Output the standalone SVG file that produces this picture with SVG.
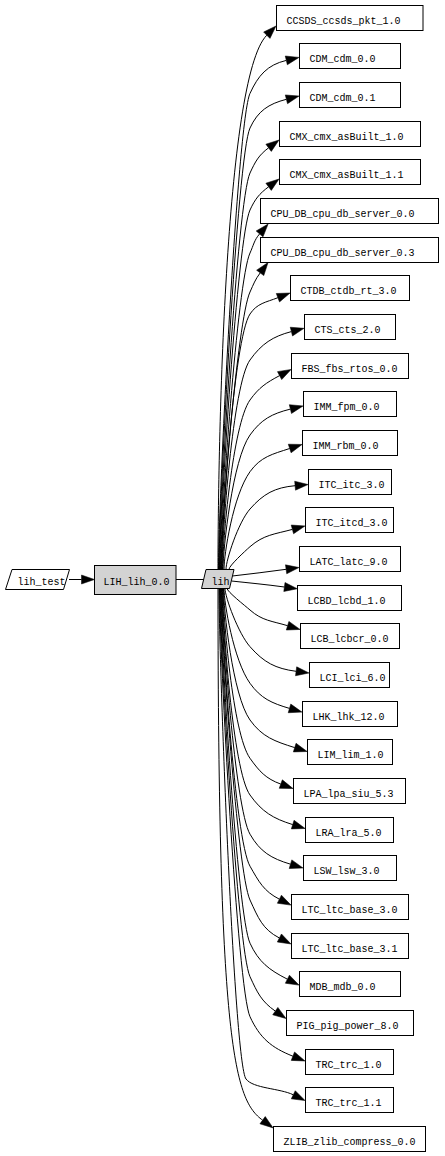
<svg xmlns="http://www.w3.org/2000/svg" width="445" height="1156" viewBox="0 0 445 1156">
<style>
.box{fill:#fff;stroke:#000;stroke-width:1}
.gray{fill:#d3d3d3;stroke:#000;stroke-width:1}
.lbl{font-family:"Liberation Mono","DejaVu Sans Mono",monospace;font-size:10px;fill:#000}
.e{fill:none;stroke:#000;stroke-width:1;marker-end:url(#ah)}
.e0{fill:none;stroke:#000;stroke-width:1}
</style>
<defs>
<marker id="ah" markerUnits="userSpaceOnUse" orient="auto" refX="0" refY="0" markerWidth="14" markerHeight="10" overflow="visible">
<path d="M0,-4.5 L13,0 L0,4.5 Z" fill="#000" stroke="#000" stroke-width="0.5"/>
</marker>
</defs>
<rect width="445" height="1156" fill="#fff"/>
<g id="edges">
<path class="e" d="M69,579.5 L81.5,579.5"/>
<path class="e0" d="M176,579.5 L204,579.5"/>
<path class="e" d="M218,569.3 C218,450 224.4,77.6 266.8,35.2"/>
<path class="e" d="M218.5,569.3 C218.5,497.9 237.4,120.7 250,93.4 C258.2,75.5 267.2,64.9 286.3,60.4"/>
<path class="e" d="M219,569.3 C219,503.1 237.4,155.3 250,128 C257.8,111.1 268.4,103.9 286.4,99.3"/>
<path class="e" d="M219.5,569.3 C219.5,509.9 237.4,200.3 250,173 C255.3,161.6 258.6,155.3 268.6,147.8"/>
<path class="e" d="M220,569.3 C220,515.4 237.4,237.3 250,210 C255,199.2 259.1,193.9 268.6,186.8"/>
<path class="e" d="M220.5,569.3 C220.5,521.9 237.4,280.3 250,253 C253.6,245.2 254,240.4 259.6,233.9"/>
<path class="e" d="M221,569.3 C221,527.7 237.4,319.3 250,292 C253.6,284.1 255,279.8 260.2,272.9"/>
<path class="e" d="M221.5,569.3 C221.5,531 233.5,338.9 250,314 C257.1,303.3 265.9,302.3 277.9,297.7"/>
<path class="e" d="M222,569.3 C222,537.9 232.6,384.3 250,360 C261.6,343.7 272.9,336.4 291.4,331.6"/>
<path class="e" d="M222.5,569.3 C222.5,543.9 232.6,424.3 250,400 C258.9,387.6 266.1,382.8 279.6,375.6"/>
<path class="e" d="M223,569.3 C223,549.2 232.6,459.3 250,435 C261.1,419.5 271.8,413.7 290.4,409.1"/>
<path class="e" d="M224,569.3 C224,554.7 233,495.4 250,471.7 C260.7,456.8 272.2,454.2 289.7,448.5"/>
<path class="e" d="M226,569.3 C226,560.3 238.1,522.6 250,509 C263.4,493.8 274.8,487.5 295.1,485.7"/>
<path class="e" d="M229,569.3 C229,565.9 244.9,551.2 250,546.7 C263.8,534.6 274.7,534.2 292.4,529.4"/>
<path class="e" d="M232.3,576 C250,574 268,571.8 286.1,569.3"/>
<path class="e" d="M231.5,581 C250,583 266,584.5 284.4,587"/>
<path class="e" d="M227,588.3 C227,591.6 245.1,605.7 250,610 C262.2,620.8 272,621 287.6,625.7"/>
<path class="e" d="M225,588.3 C225,597.1 238.4,633.6 250,646.7 C263.8,662.4 275.4,668.6 296.1,671.3"/>
<path class="e" d="M224,588.3 C224,602.6 233.5,660.2 250,683.3 C260.9,698.5 271.6,703.1 289.5,708.4"/>
<path class="e" d="M223.5,588.3 C223.5,608.1 232.6,695.7 250,720 C262.2,737 274.7,741.3 294.7,747.6"/>
<path class="e" d="M223,588.3 C223,613.8 232.6,734 250,758.3 C259.3,771.3 265.7,778.6 280.8,784.1"/>
<path class="e" d="M222.5,588.3 C222.5,619.3 232.6,770.7 250,795 C262,811.8 272.9,818.4 292.7,824.6"/>
<path class="e" d="M222,588.3 C222,625.2 235,808.1 250,834.2 C260.1,851.8 271.2,858.4 290.5,864.2"/>
<path class="e" d="M221.5,588.3 C221.5,630 235,840.1 250,866.2 C258.8,881.6 263.7,891.2 279.4,899.2"/>
<path class="e" d="M221,588.3 C221,635.1 237.4,872.7 250,900 C258.1,917.5 262.3,929.2 279.4,938"/>
<path class="e" d="M220.5,588.3 C220.5,641.5 237.4,915.9 250,943.2 C258.7,962.1 269,969.8 287.4,979.2"/>
<path class="e" d="M220,588.3 C220,646.6 237.4,949.4 250,976.7 C257.2,992.3 261.3,1001.4 275.3,1011.1"/>
<path class="e" d="M219.5,588.3 C219.5,652.6 237.4,989.4 250,1016.7 C259.8,1037.9 271.2,1047.6 292.9,1056.2"/>
<path class="e" d="M219,588.3 C219,661.9 234,1063 246,1079 C253.2,1088.6 279.8,1088.2 293.3,1094.8"/>
<path class="e" d="M218,588.3 C218,1050 235,1100 262.6,1120.2"/>
</g>
<g id="lih_test">
<polygon class="box" points="12,569.5 69.5,569.5 63.5,589.5 5.5,589.5"/>
<text class="lbl" x="17.5" y="585">lih_test</text>
</g>
<g id="LIH_lih_0.0">
<rect class="gray" x="94.5" y="565.5" width="81.5" height="29"/>
<text class="lbl" x="103.5" y="585">LIH_lih_0.0</text>
</g>
<g id="lih">
<polygon class="gray" points="206,569.5 234,569.5 229.5,588.5 201.5,588.5"/>
<text class="lbl" x="211.5" y="585">lih</text>
</g>
<g id="CCSDS_ccsds_pkt_1.0"><rect class="box" x="276.5" y="5.5" width="146.5" height="25"/><text class="lbl" x="286.5" y="23.5">CCSDS_ccsds_pkt_1.0</text></g>
<g id="CDM_cdm_0.0"><rect class="box" x="299.5" y="43.5" width="101" height="25"/><text class="lbl" x="309.5" y="61.5">CDM_cdm_0.0</text></g>
<g id="CDM_cdm_0.1"><rect class="box" x="299.5" y="82.5" width="101" height="25"/><text class="lbl" x="309.5" y="100.5">CDM_cdm_0.1</text></g>
<g id="CMX_cmx_asBuilt_1.0"><rect class="box" x="279.5" y="121.5" width="141" height="25"/><text class="lbl" x="289.5" y="139.5">CMX_cmx_asBuilt_1.0</text></g>
<g id="CMX_cmx_asBuilt_1.1"><rect class="box" x="279.5" y="159.5" width="141" height="25"/><text class="lbl" x="289.5" y="177.5">CMX_cmx_asBuilt_1.1</text></g>
<g id="CPU_DB_cpu_db_server_0.0"><rect class="box" x="260.5" y="198.5" width="178" height="25"/><text class="lbl" x="270.5" y="216.5">CPU_DB_cpu_db_server_0.0</text></g>
<g id="CPU_DB_cpu_db_server_0.3"><rect class="box" x="260.5" y="237.5" width="178" height="25"/><text class="lbl" x="270.5" y="255.5">CPU_DB_cpu_db_server_0.3</text></g>
<g id="CTDB_ctdb_rt_3.0"><rect class="box" x="290.5" y="275.5" width="119" height="25"/><text class="lbl" x="300.5" y="293.5">CTDB_ctdb_rt_3.0</text></g>
<g id="CTS_cts_2.0"><rect class="box" x="304.5" y="314.5" width="91" height="25"/><text class="lbl" x="314.5" y="332.5">CTS_cts_2.0</text></g>
<g id="FBS_fbs_rtos_0.0"><rect class="box" x="291.5" y="353.5" width="117" height="25"/><text class="lbl" x="301.5" y="371.5">FBS_fbs_rtos_0.0</text></g>
<g id="IMM_fpm_0.0"><rect class="box" x="303.5" y="391.5" width="93" height="25"/><text class="lbl" x="313.5" y="409.5">IMM_fpm_0.0</text></g>
<g id="IMM_rbm_0.0"><rect class="box" x="302.5" y="430.5" width="95" height="25"/><text class="lbl" x="312.5" y="448.5">IMM_rbm_0.0</text></g>
<g id="ITC_itc_3.0"><rect class="box" x="308.5" y="469.5" width="83" height="25"/><text class="lbl" x="318.5" y="487.5">ITC_itc_3.0</text></g>
<g id="ITC_itcd_3.0"><rect class="box" x="305.5" y="507.5" width="88" height="25"/><text class="lbl" x="315.5" y="525.5">ITC_itcd_3.0</text></g>
<g id="LATC_latc_9.0"><rect class="box" x="299.5" y="546.5" width="101" height="25"/><text class="lbl" x="309.5" y="564.5">LATC_latc_9.0</text></g>
<g id="LCBD_lcbd_1.0"><rect class="box" x="297.5" y="585.5" width="104" height="25"/><text class="lbl" x="307.5" y="603.5">LCBD_lcbd_1.0</text></g>
<g id="LCB_lcbcr_0.0"><rect class="box" x="300.5" y="623.5" width="99" height="25"/><text class="lbl" x="310.5" y="641.5">LCB_lcbcr_0.0</text></g>
<g id="LCI_lci_6.0"><rect class="box" x="309.5" y="662.5" width="80" height="25"/><text class="lbl" x="319.5" y="680.5">LCI_lci_6.0</text></g>
<g id="LHK_lhk_12.0"><rect class="box" x="302.5" y="701.5" width="95" height="25"/><text class="lbl" x="312.5" y="719.5">LHK_lhk_12.0</text></g>
<g id="LIM_lim_1.0"><rect class="box" x="307.5" y="739.5" width="85" height="25"/><text class="lbl" x="317.5" y="757.5">LIM_lim_1.0</text></g>
<g id="LPA_lpa_siu_5.3"><rect class="box" x="293.5" y="778.5" width="112" height="25"/><text class="lbl" x="303.5" y="796.5">LPA_lpa_siu_5.3</text></g>
<g id="LRA_lra_5.0"><rect class="box" x="305.5" y="817.5" width="88" height="25"/><text class="lbl" x="315.5" y="835.5">LRA_lra_5.0</text></g>
<g id="LSW_lsw_3.0"><rect class="box" x="303.5" y="855.5" width="93" height="25"/><text class="lbl" x="313.5" y="873.5">LSW_lsw_3.0</text></g>
<g id="LTC_ltc_base_3.0"><rect class="box" x="291.5" y="894.5" width="117" height="25"/><text class="lbl" x="301.5" y="912.5">LTC_ltc_base_3.0</text></g>
<g id="LTC_ltc_base_3.1"><rect class="box" x="291.5" y="933.5" width="117" height="25"/><text class="lbl" x="301.5" y="951.5">LTC_ltc_base_3.1</text></g>
<g id="MDB_mdb_0.0"><rect class="box" x="299.5" y="971.5" width="101" height="25"/><text class="lbl" x="309.5" y="989.5">MDB_mdb_0.0</text></g>
<g id="PIG_pig_power_8.0"><rect class="box" x="286.5" y="1010.5" width="127" height="25"/><text class="lbl" x="296.5" y="1028.5">PIG_pig_power_8.0</text></g>
<g id="TRC_trc_1.0"><rect class="box" x="305.5" y="1049.5" width="88" height="25"/><text class="lbl" x="315.5" y="1067.5">TRC_trc_1.0</text></g>
<g id="TRC_trc_1.1"><rect class="box" x="305.5" y="1087.5" width="88" height="25"/><text class="lbl" x="315.5" y="1105.5">TRC_trc_1.1</text></g>
<g id="ZLIB_zlib_compress_0.0"><rect class="box" x="273.5" y="1126.5" width="152" height="25"/><text class="lbl" x="283.5" y="1144.5">ZLIB_zlib_compress_0.0</text></g>
</svg>
